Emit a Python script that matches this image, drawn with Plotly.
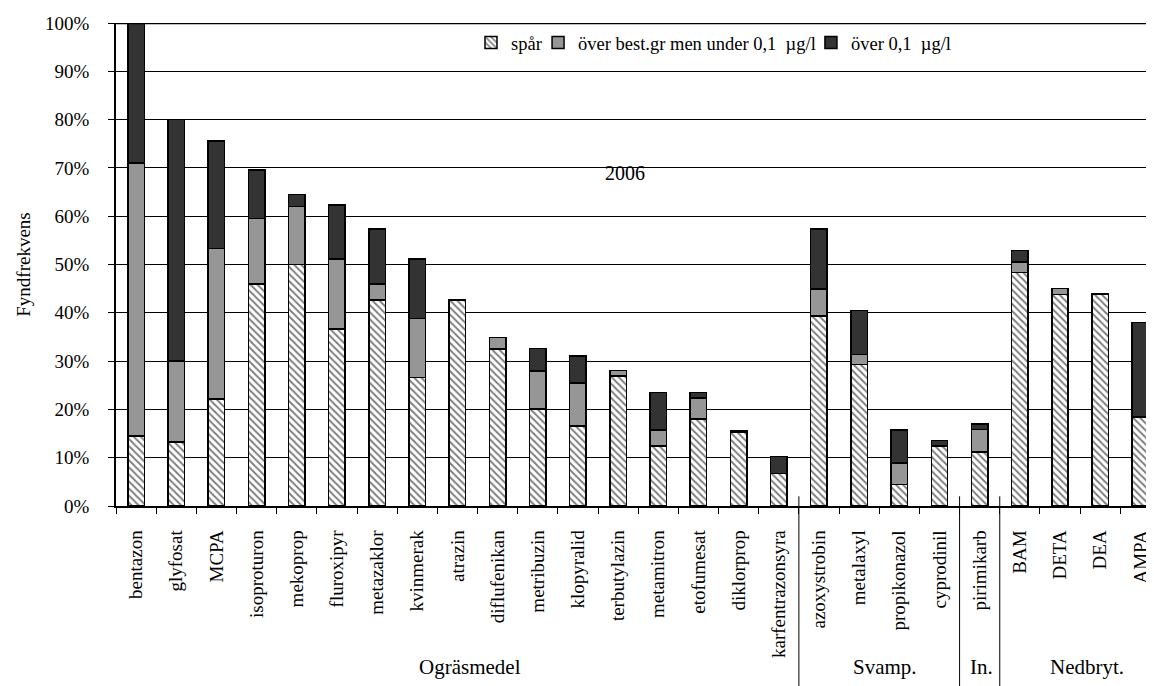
import plotly.graph_objects as go

categories = ["bentazon", "glyfosat", "MCPA", "isoproturon", "mekoprop", "fluroxipyr",
              "metazaklor", "kvinmerak", "atrazin", "diflufenikan", "metribuzin",
              "klopyralid", "terbutylazin", "metamitron", "etofumesat", "diklorprop",
              "karfentrazonsyra", "azoxystrobin", "metalaxyl", "propikonazol", "cyprodinil",
              "pirimikarb", "BAM", "DETA", "DEA", "AMPA"]

# cumulative tops (percent)
top_spar = [14.5, 13.3, 22.2, 46.0, 50.0, 36.6, 42.7, 26.6, 42.7, 32.5, 20.1, 16.6, 26.9,
            12.4, 18.0, 15.3, 6.7, 39.3, 29.3, 4.5, 12.4, 11.2, 48.3, 43.8, 43.9, 18.4]
top_mid = [71.0, 30.0, 53.3, 59.5, 62.0, 51.1, 46.0, 38.8, 42.7, 34.9, 28.0, 25.5, 28.1,
           15.7, 22.4, 15.6, 6.7, 44.9, 31.4, 8.9, 12.4, 15.8, 50.5, 45.0, 43.9, 18.4]
top_all = [100.0, 80.0, 75.6, 69.6, 64.5, 62.3, 57.3, 51.1, 42.7, 34.9, 32.6, 31.1, 28.1,
           23.5, 23.5, 15.6, 10.3, 57.3, 40.5, 15.7, 13.6, 17.0, 52.9, 45.0, 43.9, 38.0]

spar = [round(a, 1) for a in top_spar]
mid = [round(b - a, 1) for a, b in zip(top_spar, top_mid)]
high = [round(c - b, 1) for b, c in zip(top_mid, top_all)]

series_names = ["spår", "över best.gr men under 0,1  µg/l", "över 0,1  µg/l"]
group_labels = ["Ogräsmedel", "Svamp.", "In.", "Nedbryt."]
group_sizes = [17, 4, 1, 4]
group_label_x = [0.341, 0.7405, 0.834, 0.9355]

FONT = "Liberation Serif, Times New Roman, serif"

fig = go.Figure()
fig.add_trace(go.Bar(
    x=categories, y=spar, name=series_names[0], legend="legend",
    marker=dict(color="white", line=dict(color="black", width=1.5),
                pattern=dict(shape="\\", fgcolor="black", bgcolor="white", size=5, solidity=0.4)),
))
fig.add_trace(go.Bar(
    x=categories, y=mid, name=series_names[1], legend="legend2",
    marker=dict(color="#969696", line=dict(color="black", width=1.5)),
))
fig.add_trace(go.Bar(
    x=categories, y=high, name=series_names[2], legend="legend3",
    marker=dict(color="#333333", line=dict(color="black", width=1.5)),
))

shapes = []
annotations = []
start = 0
for i, (lab, n, gx) in enumerate(zip(group_labels, group_sizes, group_label_x)):
    if i > 0:
        shapes.append(dict(type="line", xref="x", yref="paper", x0=start - 0.5, x1=start - 0.5,
                           y0=0.02, y1=-0.40, line=dict(color="black", width=1)))
    annotations.append(dict(x=gx, y=-0.333, xref="paper", yref="paper", text=lab,
                            showarrow=False, font=dict(family=FONT, size=21, color="black"),
                            xanchor="center", yanchor="middle"))
    start += n

shapes.append(dict(type="line", xref="paper", yref="y", x0=0, x1=1, y0=100, y1=100,
                   line=dict(color="black", width=2.5)))

annotations.append(dict(x=0.49, y=0.69, xref="paper", yref="paper", text="2006",
                        showarrow=False, font=dict(family=FONT, size=20, color="black"),
                        xanchor="center", yanchor="middle"))

leg_common = dict(orientation="h", y=0.9586, xanchor="left", yanchor="middle",
                  font=dict(family=FONT, size=18.5, color="black"), bgcolor="rgba(0,0,0,0)",
                  itemwidth=30)

fig.update_layout(
    width=1146, height=678,
    margin=dict(l=108, r=0, t=15, b=180),
    barmode="stack", bargap=0.59,
    plot_bgcolor="white", paper_bgcolor="white",
    font=dict(family=FONT, size=19, color="black"),
    showlegend=True,
    legend=dict(x=0.3420, **leg_common),
    legend2=dict(x=0.4066, **leg_common),
    legend3=dict(x=0.6695, **leg_common),
    shapes=shapes, annotations=annotations,
)
fig.update_xaxes(
    type="category", range=[-0.5, 25.34], tickangle=-90,
    showline=True, linecolor="black", linewidth=1.5,
    ticks="outside", tickson="boundaries", ticklen=6, tickcolor="black",
    ticklabelstandoff=15,
    showgrid=False, tickfont=dict(family=FONT, size=19, color="black"),
)
fig.update_yaxes(
    range=[0, 100], dtick=10, ticksuffix="%",
    showline=True, linecolor="black", linewidth=1.5,
    ticks="outside", ticklen=6, tickcolor="black",
    ticklabelstandoff=15,
    showgrid=True, gridcolor="black", gridwidth=1,
    tickfont=dict(family=FONT, size=19, color="black"),
    title=dict(text="Fyndfrekvens", font=dict(family=FONT, size=19, color="black"), standoff=9),
    zeroline=False,
)

fig.write_html("out.html")
